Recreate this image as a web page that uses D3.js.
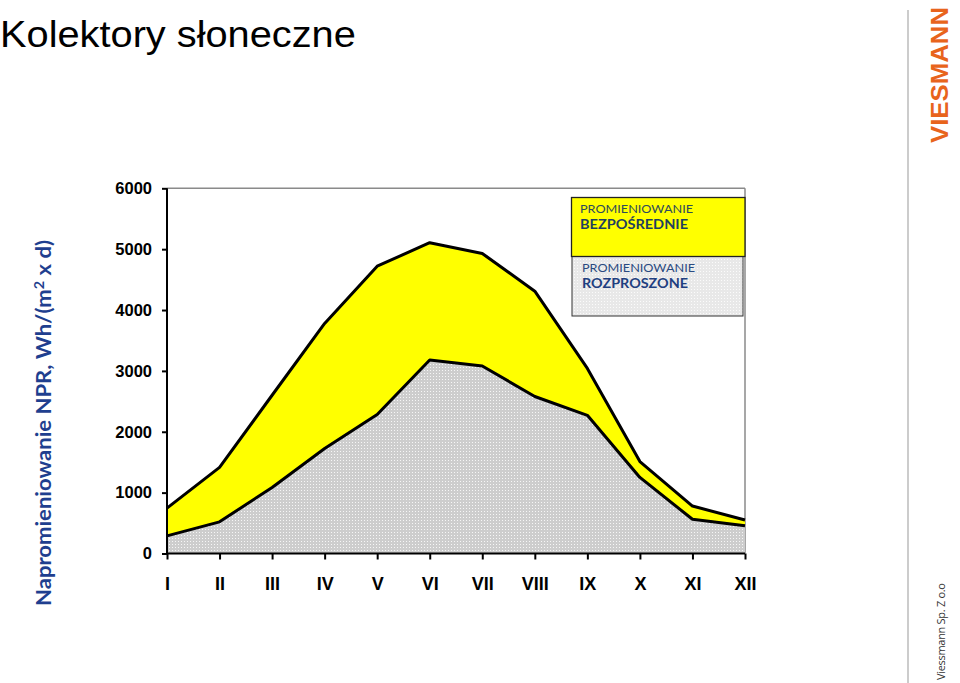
<!DOCTYPE html>
<html><head><meta charset="utf-8">
<script src="https://cdn.jsdelivr.net/npm/d3@7"></script>
<style>body{margin:0;background:#fff}svg{display:block}</style>
</head><body>
<svg id="c" width="960" height="683"></svg>
<script>
const months = ["I","II","III","IV","V","VI","VII","VIII","IX","X","XI","XII"];
const total   = [745, 1414, 2600, 3780, 4720, 5106, 4930, 4310, 3040, 1510, 780, 550];
const diffuse = [290, 520, 1085, 1725, 2285, 3180, 3080, 2580, 2270, 1250, 562, 457];
const yTicks = [0, 1000, 2000, 3000, 4000, 5000, 6000];

const svg = d3.select("#c");
const defs = svg.append("defs");
const pat = defs.append("pattern").attr("id","dots").attr("patternUnits","userSpaceOnUse")
  .attr("width",3).attr("height",3);
pat.append("rect").attr("width",3).attr("height",3).attr("fill","#cdcdcd");
pat.append("rect").attr("x",1).attr("y",1).attr("width",1).attr("height",1).attr("fill","#f6f6f6");

const x = d3.scalePoint().domain(months).range([167, 745]);
const y = d3.scaleLinear().domain([0, 6000]).range([553.5, 188.3]);

// title
svg.append("text").attr("transform","translate(0,47) scale(1.09,1)").attr("font-family","Liberation Sans, Arial, sans-serif")
  .attr("font-size",36.5).attr("fill","#000").text("Kolektory słoneczne");

// frame top/right
svg.append("line").attr("x1",167).attr("x2",745).attr("y1",188.3).attr("y2",188.3).attr("stroke","#8a8a8a").attr("stroke-width",1.5);
svg.append("line").attr("x1",745).attr("x2",745).attr("y1",188.3).attr("y2",553.5).attr("stroke","#8a8a8a").attr("stroke-width",1.5);

// areas
const areaTotal = d3.area().x((d,i)=>x(months[i])).y0((d,i)=>y(diffuse[i])).y1(d=>y(d));
const areaDiff = d3.area().x((d,i)=>x(months[i])).y0(y(0)).y1(d=>y(d));
svg.append("path").datum(total).attr("d",areaTotal).attr("fill","#ffff00");
svg.append("path").datum(diffuse).attr("d",areaDiff).attr("fill","url(#dots)");
const line = d3.line().x((d,i)=>x(months[i])).y(d=>y(d));
svg.append("path").datum(total).attr("d",line).attr("fill","none").attr("stroke","#000").attr("stroke-width",3).attr("stroke-linejoin","round");
svg.append("path").datum(diffuse).attr("d",line).attr("fill","none").attr("stroke","#000").attr("stroke-width",3).attr("stroke-linejoin","round");

// axes
const yAxis = d3.axisLeft(y).tickValues(yTicks).tickSize(5).tickPadding(10).tickFormat(d3.format("d"));
const gy = svg.append("g").attr("transform","translate(167,0)").call(yAxis);
const xAxis = d3.axisBottom(x).tickSize(6).tickPadding(18);
const gx = svg.append("g").attr("transform",`translate(0,${y(0)})`).call(xAxis);
[gy,gx].forEach(g=>{
  g.select(".domain").attr("stroke","#000").attr("stroke-width",2);
  g.selectAll(".tick line").attr("stroke","#000").attr("stroke-width",2);
});
gy.selectAll(".tick text").attr("font-family","Liberation Sans, Arial, sans-serif")
  .attr("font-weight","bold").attr("font-size",16.5).attr("fill","#000");
gx.selectAll(".tick text").attr("font-family","'Liberation Sans Narrow', 'Liberation Sans', Arial, sans-serif")
  .attr("font-weight","bold").attr("font-size",18).attr("fill","#000");
gy.select(".domain").attr("d","M0,188.3V553.5");
gx.select(".domain").attr("d","M167,0H745");

// legend
svg.append("rect").attr("x",572).attr("y",256).attr("width",171).attr("height",60)
  .attr("fill","url(#dots)");
svg.append("rect").attr("x",572).attr("y",256).attr("width",171).attr("height",60)
  .attr("fill","#fff").attr("opacity",0.55);
svg.append("rect").attr("x",572).attr("y",256).attr("width",171).attr("height",60)
  .attr("fill","none").attr("stroke","#333").attr("stroke-width",1);
svg.append("rect").attr("x",571.5).attr("y",197.5).attr("width",173.5).attr("height",59)
  .attr("fill","#ffff00").attr("stroke","#222").attr("stroke-width",1.3);
const lf = "Lato, 'Open Sans', sans-serif";
svg.append("text").attr("x",580).attr("y",213).attr("font-family",lf).attr("font-size",11.5)
  .attr("fill","#2e4a5c").attr("textLength",113).attr("lengthAdjust","spacingAndGlyphs").text("PROMIENIOWANIE");
svg.append("text").attr("x",580).attr("y",229).attr("font-family",lf).attr("font-size",13.5)
  .attr("font-weight","bold").attr("fill","#1f3f5f").attr("textLength",108).attr("lengthAdjust","spacingAndGlyphs").text("BEZPOŚREDNIE");
svg.append("text").attr("x",582).attr("y",272).attr("font-family",lf).attr("font-size",11.5)
  .attr("fill","#2a4a80").attr("textLength",113).attr("lengthAdjust","spacingAndGlyphs").text("PROMIENIOWANIE");
svg.append("text").attr("x",582).attr("y",287.5).attr("font-family",lf).attr("font-size",13.5)
  .attr("font-weight","bold").attr("fill","#1f3f80").attr("textLength",106).attr("lengthAdjust","spacingAndGlyphs").text("ROZPROSZONE");

// y label
svg.append("text").attr("transform","translate(51,423) rotate(-90)").attr("text-anchor","middle")
  .attr("font-family",lf).attr("font-weight","bold").attr("font-size",20).attr("fill","#1f3f8f")
  .attr("textLength",366).attr("lengthAdjust","spacingAndGlyphs")
  .html("Napromieniowanie NPR, Wh/(m<tspan dy='-7' font-size='13'>2</tspan><tspan dy='7'> x d)</tspan>");

// right side: separator, logo, footer
svg.append("line").attr("x1",908).attr("x2",908).attr("y1",10).attr("y2",683).attr("stroke","#bbb").attr("stroke-width",1.5);
const logo = svg.append("g").attr("transform","translate(948,143) rotate(-90)");
logo.append("text").attr("x",0).attr("y",0).attr("font-family","Liberation Sans, Arial, sans-serif")
  .attr("font-weight","bold").attr("font-size",23).attr("fill","#e8641c")
  .attr("textLength",136).attr("lengthAdjust","spacingAndGlyphs").text("VIESMANN");
svg.append("text").attr("transform","translate(945,680) rotate(-90)")
  .attr("font-family","'Open Sans', sans-serif").attr("font-size",11).attr("fill","#333")
  .attr("textLength",97).text("Viessmann Sp. Z o.o");
</script>
</body></html>
